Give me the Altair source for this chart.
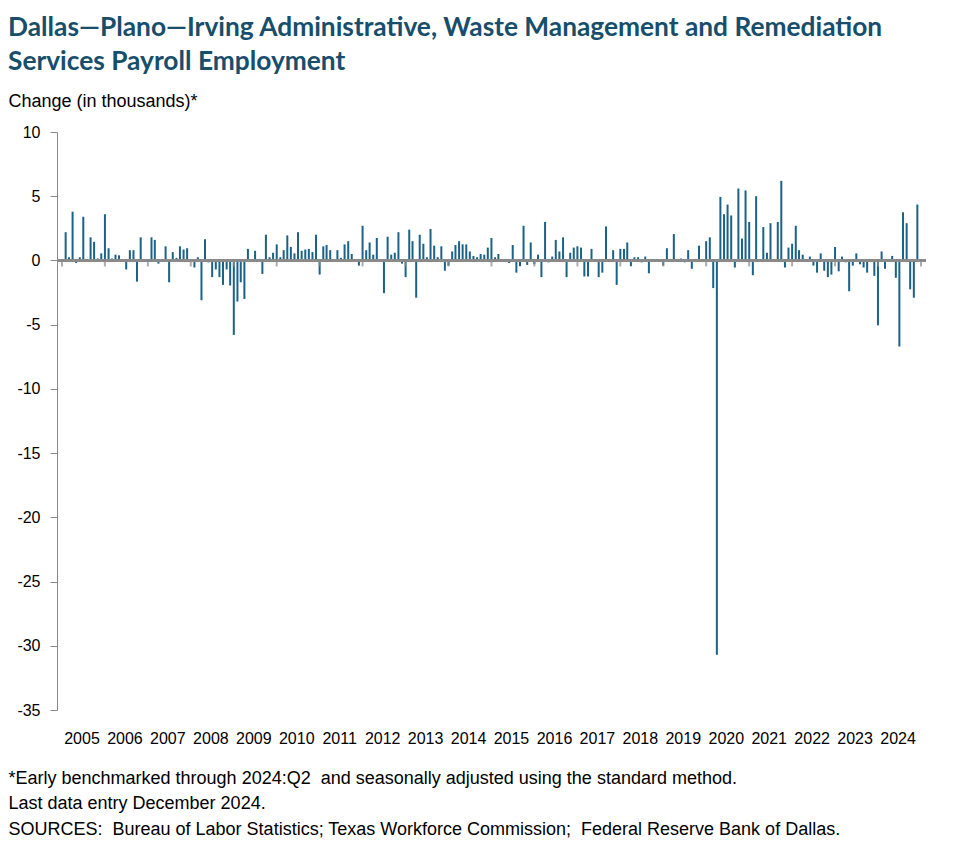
import altair as alt
import pandas as pd

# Monthly change (thousands), Feb 2005 - Dec 2024
v2005 = [2.2, 0.25, 3.8, -0.2, 0.25, 3.4, 0.0, 1.8, 1.45, 0.15, 0.55]  # Feb-Dec
v2006 = [3.6, 0.95, 0.15, 0.45, 0.4, 0.0, -0.7, 0.8, 0.8, -1.65, 1.8, 0.0]
v2007 = [0.0, 1.8, 1.6, -0.25, 0.0, 1.1, -1.7, 0.65, 0.2, 1.1, 0.85, 0.95]
v2008 = [0.0, -0.55, 0.25, -3.1, 1.65, -0.15, -1.3, -0.7, -1.3, -1.9, -0.7, -1.95]
v2009 = [-5.8, -3.2, -1.7, -3.0, 0.9, 0.0, 0.75, 0.0, -1.05, 2.0, 0.25, 0.6]
v2010 = [1.25, 0.25, 0.8, 1.95, 1.05, 0.55, 2.2, 0.75, 0.85, 0.9, 0.65, 2.0]
v2011 = [-1.1, 1.1, 1.2, 0.8, 0.0, 0.8, 0.2, 1.25, 1.5, 0.5, 0.0, -0.4]
v2012 = [2.7, 0.8, 1.4, 0.45, 1.75, 0.0, -2.55, 1.85, 0.45, 0.6, 2.2, -0.25]
v2013 = [-1.3, 2.4, 1.5, -2.9, 2.0, 1.3, 0.25, 2.45, 1.15, 0.25, 1.1, -0.8]
v2014 = [-0.4, 0.7, 1.2, 1.5, 1.25, 1.25, 0.7, 0.35, 0.25, 0.5, 0.45, 1.0]
v2015 = [1.75, 0.25, 0.5, 0.0, 0.0, -0.2, 1.2, -0.95, -0.45, 2.7, -0.35, 1.4]
v2016 = [-0.3, 0.45, -1.3, 3.0, -0.15, 0.3, 1.6, 0.7, 1.8, -1.3, 0.6, 1.0]
v2017 = [1.1, 1.0, -1.25, -1.25, 0.9, 0.0, -1.3, -0.95, 2.65, 0.0, 0.8, -1.9]
v2018 = [0.9, 0.9, 1.4, -0.45, 0.25, 0.25, -0.15, 0.3, -1.0, 0.0, 0.0, 0.0]
v2019 = [-0.4, 0.95, 0.0, 2.05, 0.0, 0.15, -0.15, 0.8, -0.65, 0.0, 1.15, 0.0]
v2020 = [1.5, 1.8, -2.15, -30.7, 4.95, 3.6, 4.35, 3.5, -0.55, 5.6, 1.7, 5.45]
v2021 = [3.0, -1.15, 5.0, 0.0, 2.6, 0.6, 2.9, 0.0, 3.0, 6.2, -0.55, 1.0]
v2022 = [1.3, 2.7, 0.8, 0.45, 0.0, 0.3, -0.4, -0.95, 0.55, -0.8, -1.3, -1.1]
v2023 = [1.05, -0.85, 0.3, -0.15, -2.4, -0.4, 0.55, -0.3, -0.55, -0.95, 0.0, -1.2]
v2024 = [-5.05, 0.7, -0.65, 0.0, 0.35, -1.35, -6.7, 3.75, 2.9, -2.25, -2.9, 4.35]

by_year = [v2005, v2006, v2007, v2008, v2009, v2010, v2011, v2012, v2013, v2014,
           v2015, v2016, v2017, v2018, v2019, v2020, v2021, v2022, v2023, v2024]
years = list(range(2005, 2025))

title_lines = ["Dallas\u2014Plano\u2014Irving Administrative, Waste Management and Remediation",
               "Services Payroll Employment"]
y_label = "Change (in thousands)*"
footnotes = ["*Early benchmarked through 2024:Q2\u00a0 and seasonally adjusted using the standard method.",
             "Last data entry December 2024.",
             "SOURCES:\u00a0 Bureau of Labor Statistics; Texas Workforce Commission;\u00a0 Federal Reserve Bank of Dallas."]

rows = []
for y, vals in zip(years, by_year):
    start = 13 - len(vals)
    for k, v in enumerate(vals):
        rows.append({"date": f"{y}-{start + k:02d}-01T00:00:00", "value": v})
df = pd.DataFrame(rows)

tick_df = pd.DataFrame({"date": [f"{y}-01-01T00:00:00" for y in years + [2025]]})

BAR = "#1a6287"
GRAY = "#8a8a8a"
TITLE = "#174e6b"
FONT = "Liberation Sans"

x_scale = alt.Scale(domain=[alt.DateTime(year=2005, month=1, date=1),
                            alt.DateTime(year=2025, month=1, date=1)])
label_dates = [alt.DateTime(year=y, month=6, date=16) for y in years]

x_axis = alt.Axis(values=label_dates, format="%Y", domain=False, ticks=False, tickSize=0,
                  grid=False, labelFont=FONT, labelFontSize=16, labelColor="#000000",
                  labelPadding=20, labelAngle=0, labelFlush=False, labelOverlap=False,
                  title=footnotes, titleFont=FONT, titleFontSize=18, titleFontWeight="normal",
                  titleColor="#000000", titleAnchor="start", titleAlign="left",
                  titleBaseline="top", titleX=-49, titleY=59, titleLineHeight=25.5)

y_axis = alt.Axis(values=list(range(-35, 11, 5)), grid=False, domainColor=GRAY, domainWidth=1,
                  tickColor=GRAY, tickSize=7, labelFont=FONT, labelFontSize=16,
                  labelColor="#000000", labelPadding=10, labelExpr="toString(datum.value)",
                  title=y_label, titleFont=FONT, titleFontSize=18, titleFontWeight="normal",
                  titleColor="#000000", titleAngle=0, titleAlign="left", titleBaseline="middle",
                  titleX=-49, titleY=-31)

bars = alt.Chart(df).mark_bar(size=2, color=BAR).encode(
    x=alt.X("date:T", scale=x_scale, axis=x_axis),
    y=alt.Y("value:Q", scale=alt.Scale(domain=[-35, 10], nice=False), axis=y_axis),
)

zero = alt.Chart(df).mark_rule(color=GRAY, strokeWidth=2).encode(y=alt.datum(0))

ticks = alt.Chart(tick_df).mark_tick(orient="vertical", color=GRAY, thickness=2, size=6,
                                     yOffset=3).encode(x=alt.X("date:T"), y=alt.datum(0))

chart = alt.layer(bars, zero, ticks).properties(
    width=869, height=578,
    title=alt.TitleParams(text=title_lines, anchor="start", frame="group", dx=-49,
                          font="Lato", fontSize=26.3, fontWeight="bold", color=TITLE,
                          lineHeight=34, offset=17),
    padding={"left": 0, "top": 6, "right": 5, "bottom": 5},
).configure_view(stroke=None)

chart.save("out.html", embed_options={"renderer": "svg", "actions": False})
